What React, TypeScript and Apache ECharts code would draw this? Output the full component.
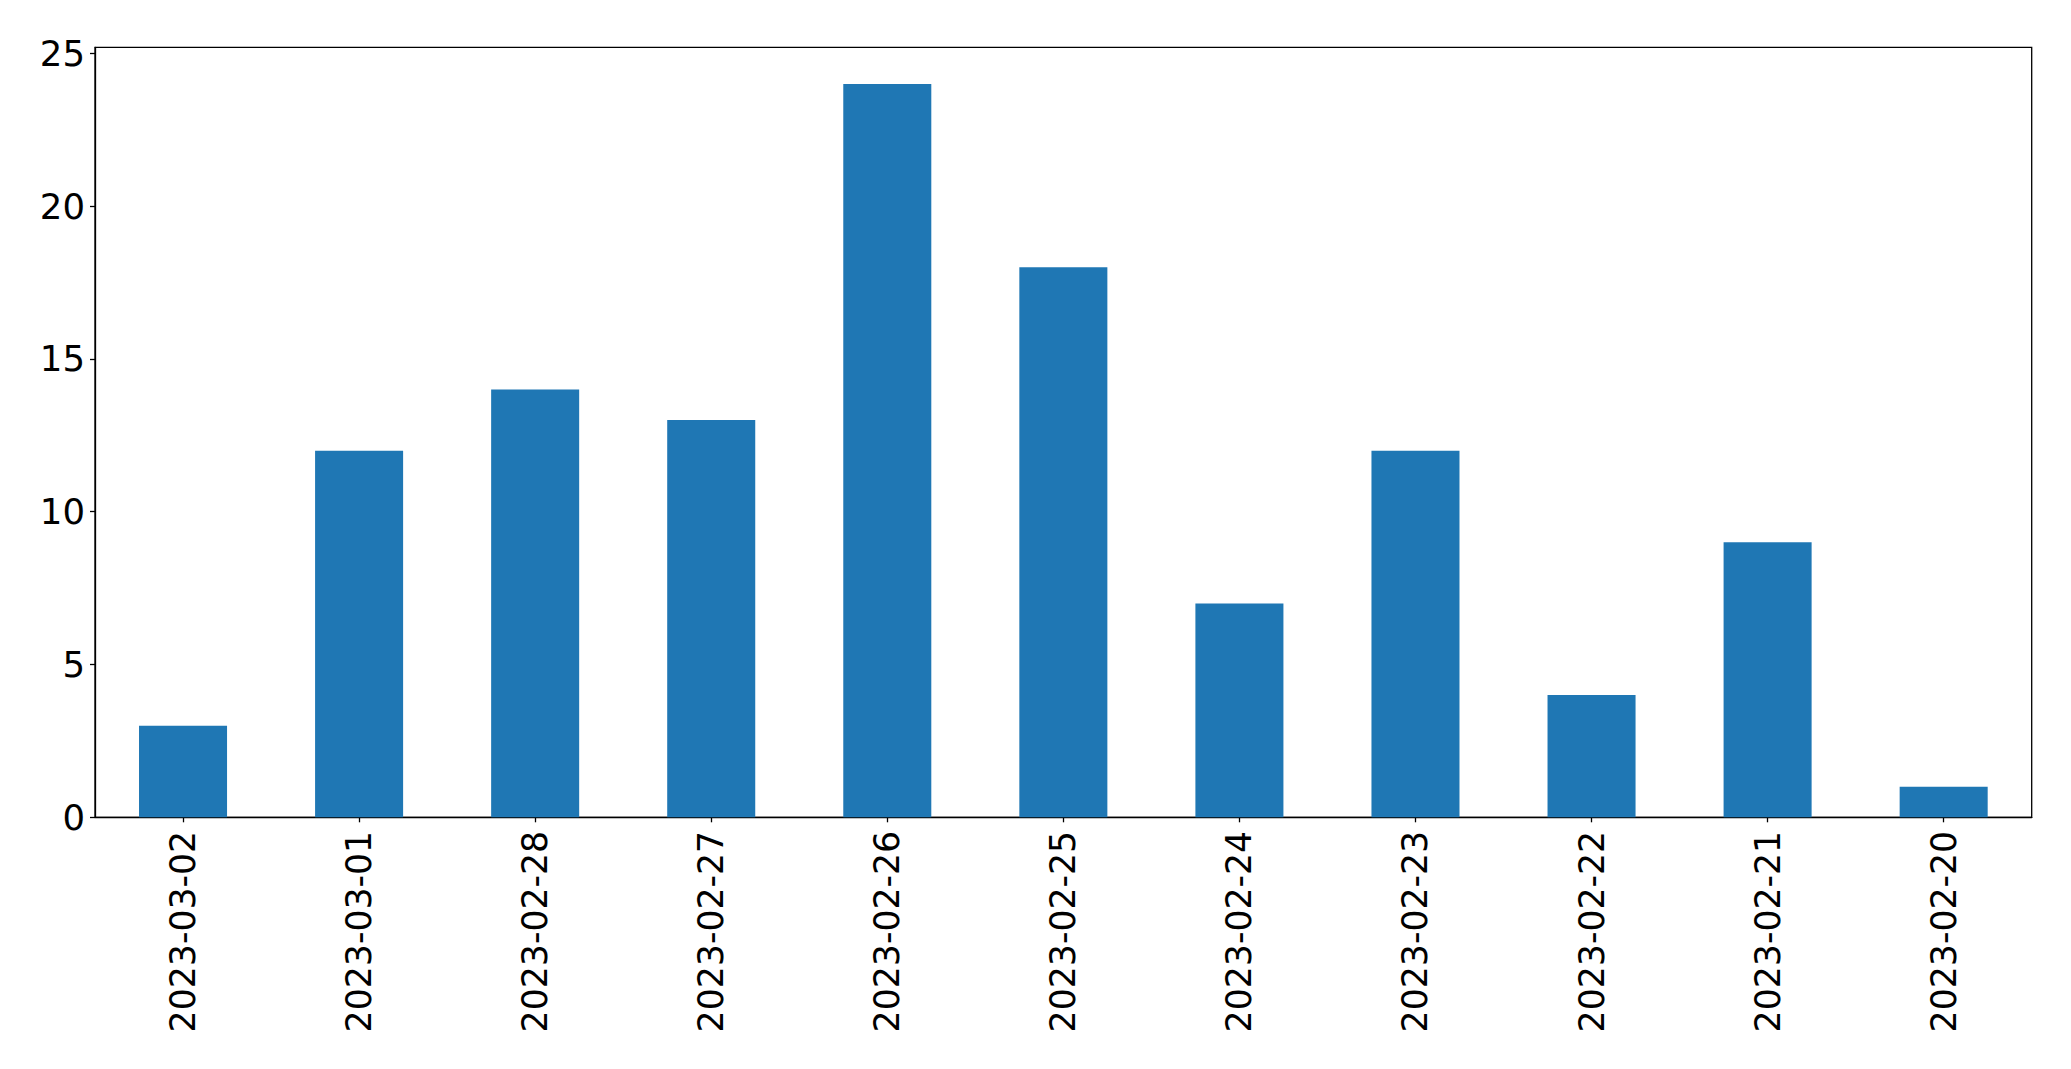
import React, { useEffect, useRef } from "react";
import * as echarts from "echarts";

const categories = [
  "2023-03-02", "2023-03-01", "2023-02-28", "2023-02-27", "2023-02-26", "2023-02-25",
  "2023-02-24", "2023-02-23", "2023-02-22", "2023-02-21", "2023-02-20",
];
const counts = [3, 12, 14, 13, 24, 18, 7, 12, 4, 9, 1];
const yTicks = [0, 5, 10, 15, 20, 25];

export default function App() {
  const ref = useRef<HTMLDivElement>(null);
  useEffect(() => {
    if (!ref.current) return;
    const chart = echarts.init(ref.current, undefined, { renderer: "svg" });
    const font = "DejaVu Sans";
    chart.setOption({
      animation: false,
      backgroundColor: "#ffffff",
      grid: {
        left: 95,
        top: 47.3,
        width: 1936.7,
        height: 770,
        show: true,
        borderColor: "#000000",
        borderWidth: 1.3,
        backgroundColor: "transparent",
      },
      xAxis: {
        type: "category",
        data: categories,
        boundaryGap: true,
        axisLine: { show: true, lineStyle: { color: "#000", width: 1.3 } },
        axisTick: { show: true, alignWithLabel: true, length: 5, lineStyle: { color: "#000", width: 1.3 } },
        axisLabel: { rotate: 90, fontSize: 34.7, fontFamily: font, color: "#000", margin: 13.5, interval: 0 },
        splitLine: { show: false },
      },
      yAxis: {
        type: "value",
        min: 0,
        max: 25.2,
        interval: 5,
        axisLine: { show: true, lineStyle: { color: "#000", width: 1.3 } },
        axisTick: { show: true, length: 5, customValues: yTicks, lineStyle: { color: "#000", width: 1.3 } },
        axisLabel: { fontSize: 35.5, fontFamily: font, color: "#000", margin: 10, customValues: yTicks },
        splitLine: { show: false },
      },
      series: [
        {
          type: "bar",
          data: counts,
          barWidth: "50%",
          itemStyle: { color: "#1f77b4" },
        },
      ],
    });
    return () => chart.dispose();
  }, []);
  return (
    <div
      ref={ref}
      style={{ position: "fixed", left: 0, top: 0, width: 2071, height: 1069 }}
    />
  );
}
